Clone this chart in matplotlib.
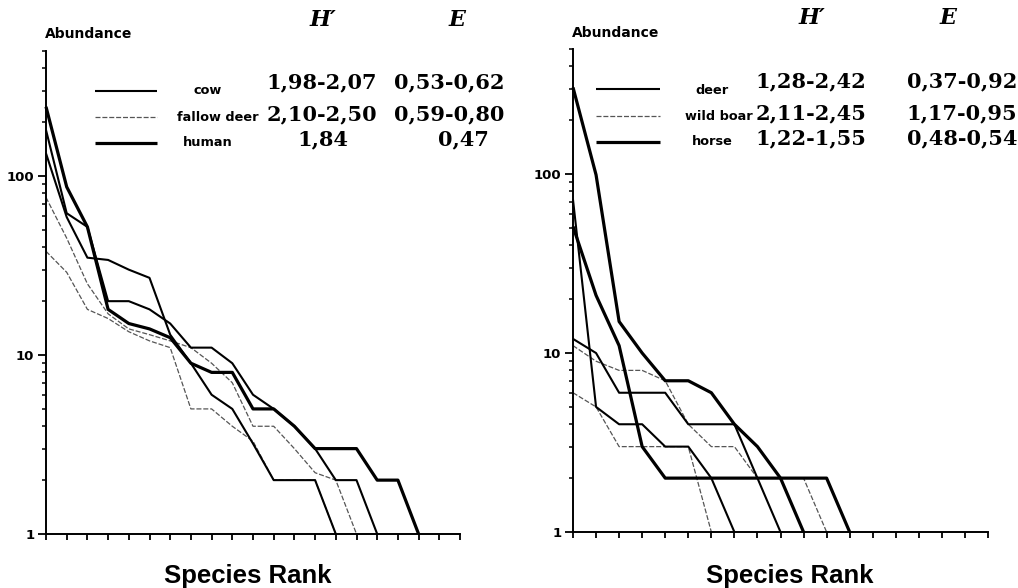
import numpy as np
import matplotlib
matplotlib.use("Agg")
import matplotlib.pyplot as plt
from matplotlib.ticker import LogLocator, NullFormatter, FixedLocator, FixedFormatter

# --- data (abundance per species rank) ---
# left panel
human = [244, 87, 52, 18, 15, 14, 12.5, 9, 8, 8, 5, 5, 4, 3, 3, 3, 2, 2, 1]
cow_a = [181, 62, 52, 20, 20, 18, 15, 11, 11, 9, 6, 5, 4, 3, 2, 2, 1]
cow_b = [134, 59, 35, 34, 30, 27, 13, 9, 6, 5, 3.2, 2, 2, 2, 1]
fallow_a = [76, 45, 25, 17, 14, 13, 12, 11, 9, 7, 4, 4, 3, 2.2, 2, 1]
fallow_b = [38, 29, 18, 16, 13.5, 12, 11, 5, 5, 4, 3.3, 2, 2, 2, 1]

# right panel
horse_a = [305, 99, 15, 10, 7, 7, 6, 4, 3, 2, 1]
horse_b = [51, 21, 11, 3, 2, 2, 2, 2, 2, 2, 2, 2, 1]
deer_a = [72, 5, 4, 4, 3, 3, 2, 1]
deer_b = [12, 10, 6, 6, 6, 4, 4, 4, 2, 1]
boar_a = [11, 9, 8, 8, 7, 4, 3, 3, 2, 2, 2, 1]
boar_b = [6, 5, 3, 3, 3, 3, 1]

left_names = ["cow", "fallow deer", "human"]
left_h = ["1,98-2,07", "2,10-2,50", "1,84"]
left_e = ["0,53-0,62", "0,59-0,80", "0,47"]
right_names = ["deer", "wild boar", "horse"]
right_h = ["1,28-2,42", "2,11-2,45", "1,22-1,55"]
right_e = ["0,37-0,92", "1,17-0,95", "0,48-0,54"]

W, H = 1018, 588
fig = plt.figure(figsize=(W / 100, H / 100), dpi=100)

THIN = dict(color="black", lw=1.5, solid_capstyle="butt")
THICK = dict(color="black", lw=2.3, solid_capstyle="butt")
DOT = dict(color="#555555", lw=0.9, linestyle=(0, (4, 1.5)))


def setup_axes(ax, nmax):
    ax.set_yscale("log")
    ax.set_ylim(1, 500)
    ax.set_xlim(1, nmax)
    for s in ["top", "right"]:
        ax.spines[s].set_visible(False)
    for s in ["left", "bottom"]:
        ax.spines[s].set_linewidth(1.4)
    ax.yaxis.set_major_locator(FixedLocator([1, 10, 100]))
    ax.yaxis.set_major_formatter(FixedFormatter(["1", "10", "100"]))
    ax.yaxis.set_minor_locator(LogLocator(base=10, subs=np.arange(2, 10)))
    ax.yaxis.set_minor_formatter(NullFormatter())
    ax.set_xticks(np.arange(1, nmax + 1))
    ax.set_xticklabels([])
    ax.tick_params(axis="y", which="major", direction="out", length=5.5, width=1.3, pad=3,
                   labelsize=9.5)
    ax.tick_params(axis="y", which="minor", direction="out", length=3, width=1.1)
    ax.tick_params(axis="x", which="major", direction="out", length=4.5, width=1.3)
    for lab in ax.get_yticklabels():
        lab.set_fontweight("bold")


def draw(ax, vals, style):
    ranks = np.arange(1, len(vals) + 1)
    ax.plot(ranks, vals, clip_on=False, **style)


def put(x, y, s, va="center", **kw):
    fig.text(x / W, 1 - y / H, s, va=va, **kw)


# left panel
ax1 = fig.add_axes([46 / W, 1 - 534 / H, 414 / W, 483 / H])
setup_axes(ax1, 21)
draw(ax1, fallow_a, DOT)
draw(ax1, fallow_b, DOT)
draw(ax1, cow_a, THIN)
draw(ax1, cow_b, THIN)
draw(ax1, human, THICK)

# right panel
ax2 = fig.add_axes([573 / W, 1 - 532 / H, 415 / W, 483 / H])
setup_axes(ax2, 19)
draw(ax2, boar_a, DOT)
draw(ax2, boar_b, DOT)
draw(ax2, deer_a, THIN)
draw(ax2, deer_b, THIN)
draw(ax2, horse_a, THICK)
draw(ax2, horse_b, THICK)

# axis titles
put(45, 34, "Abundance", fontsize=10, fontweight="bold", ha="left")
put(572, 33, "Abundance", fontsize=10, fontweight="bold", ha="left")
xl = dict(family="Liberation Sans", fontweight="bold", fontsize=18.5, ha="center")
put(248, 583, "Species Rank", va="baseline", **xl)
put(790, 583, "Species Rank", va="baseline", **xl)

# legend / table in the upper part
num = dict(family=["DejaVu Serif"], fontweight="bold", fontsize=15, ha="center")
head = dict(family=["DejaVu Serif", "DejaVu Sans"], fontweight="bold", style="italic",
            fontsize=16, ha="center")
lab = dict(fontsize=9.3, fontweight="bold")
styles = [THIN, DOT, THICK]

# left table
put(323, 20, "H\u2032", **head)
put(457, 20, "E", **head)
line_y = [91, 117, 143]
num_y = [82, 114, 139]
for i in range(3):
    fig.add_artist(plt.Line2D([95 / W, 157 / W], [1 - line_y[i] / H] * 2, **styles[i]))
put(208, 91, left_names[0], ha="center", **lab)
put(259, 117, left_names[1], ha="right", **lab)
put(208, 143, left_names[2], ha="center", **lab)
put(322, num_y[0], left_h[0], **num)
put(322, num_y[1], left_h[1], **num)
put(323, num_y[2], left_h[2], **num)
put(449, num_y[0], left_e[0], **num)
put(449, num_y[1], left_e[1], **num)
put(463, num_y[2], left_e[2], **num)

# right table
put(812, 18, "H\u2032", **head)
put(948, 18, "E", **head)
line_y = [89, 116, 142]
num_y = [81, 113, 138]
for i in range(3):
    fig.add_artist(plt.Line2D([596 / W, 660 / W], [1 - line_y[i] / H] * 2, **styles[i]))
put(712, 90, right_names[0], ha="center", **lab)
put(753, 116, right_names[1], ha="right", **lab)
put(712, 142, right_names[2], ha="center", **lab)
for i in range(3):
    put(811, num_y[i], right_h[i], **num)
    put(962, num_y[i], right_e[i], **num)

fig.savefig("out.png", dpi=100)
